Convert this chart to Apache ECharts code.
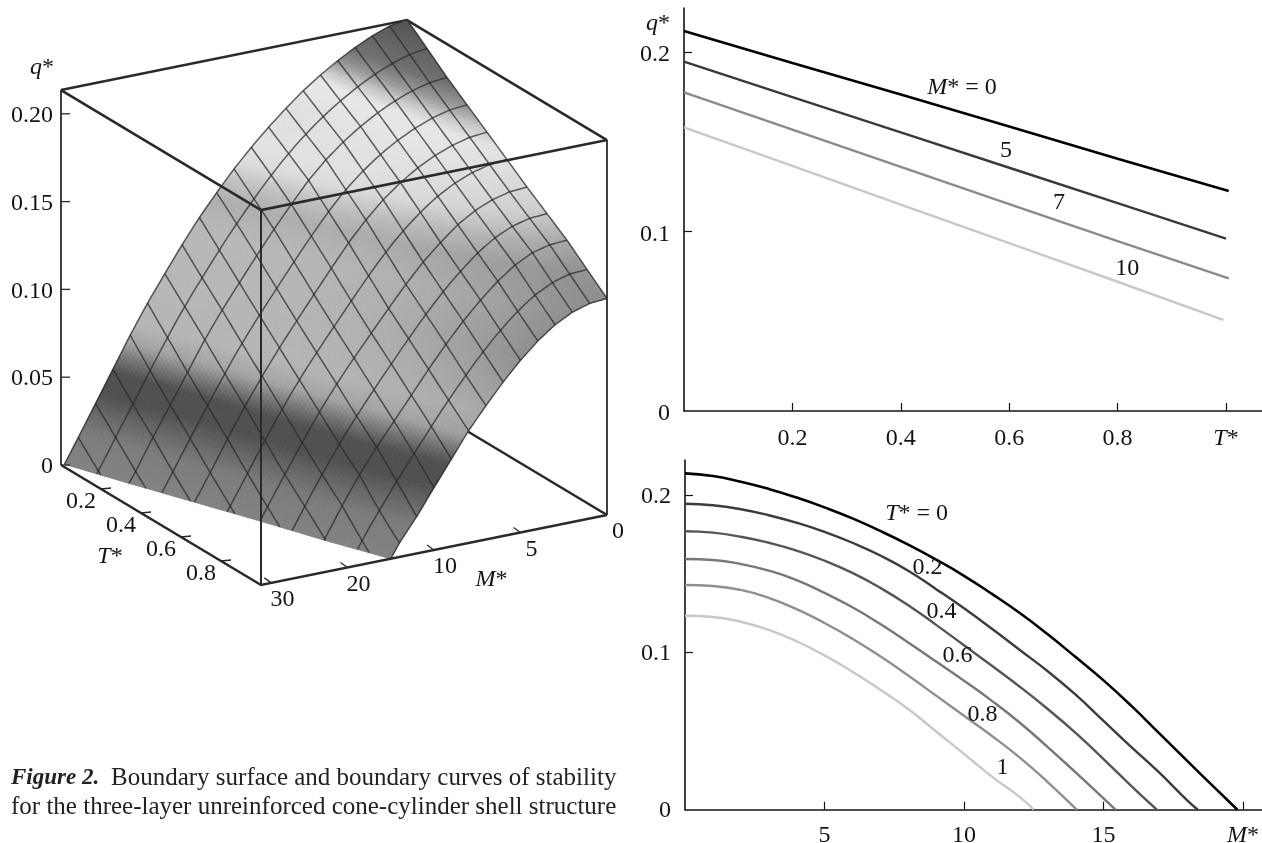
<!DOCTYPE html>
<html><head><meta charset="utf-8">
<style>html,body{margin:0;padding:0;background:#fff}#c{width:1262px;height:843px}</style>
<script src="https://cdn.jsdelivr.net/npm/echarts@6/dist/echarts.min.js"></script>
</head><body><div id="c"></div>
<script>
// ---------- data ----------
const tStations = [0, 0.2, 0.4, 0.6, 0.8];
const tEndM0 = 1.005, tEndM5 = 1.0, tEndM7 = 1.005, tEndM10 = 0.995;
const qM0  = [0.2117, 0.1938, 0.1763, 0.1585, 0.1405, 0.1226];
const qM5  = [0.1946, 0.1749, 0.1552, 0.1355, 0.1158, 0.0960];
const qM7  = [0.1775, 0.1568, 0.1360, 0.1153, 0.0946, 0.0739];
const qM10 = [0.1580, 0.1365, 0.1150, 0.0935, 0.0720, 0.0507];

// q* at M* = 0, 1, 2, ... for each T*; the curve then reaches q* = 0 at mZero
const qT00 = [0.2138,0.2121,0.2085,0.2039,0.1984,0.1922,0.1852,0.1772,0.1685,0.1590,0.1487,0.1372,0.1250,0.1115,0.0970,0.0822,0.0660,0.0485,0.0310,0.0137];
const qT02 = [0.1945,0.1935,0.1910,0.1872,0.1824,0.1766,0.1697,0.1616,0.1519,0.1402,0.1280,0.1150,0.1015,0.0880,0.0731,0.0565,0.0398,0.0235,0.0060];
const qT04 = [0.1770,0.1761,0.1735,0.1697,0.1647,0.1583,0.1505,0.1410,0.1300,0.1175,0.1045,0.0915,0.0782,0.0640,0.0488,0.0322,0.0150];
const qT06 = [0.1594,0.1587,0.1562,0.1520,0.1460,0.1378,0.1287,0.1180,0.1063,0.0942,0.0820,0.0692,0.0553,0.0398,0.0237,0.0072];
const qT08 = [0.1428,0.1422,0.1397,0.1347,0.1275,0.1187,0.1087,0.0975,0.0853,0.0725,0.0597,0.0469,0.0331,0.0176];
const qT10 = [0.1233,0.1225,0.1195,0.1143,0.1071,0.0981,0.0877,0.0762,0.0640,0.0497,0.0355,0.0210,0.0080];
const mZero = [19.8, 18.38, 16.91, 15.43, 14.04, 12.5];
const curveT = [0, 0.2, 0.4, 0.6, 0.8, 1];

const qTicks3d = [0, 0.05, 0.10, 0.15, 0.20];
const qTickLabels3d = ['0', '0.05', '0.10', '0.15', '0.20'];
const tTicks3d = [0.2, 0.4, 0.6, 0.8];
const tTickLabels3d = ['0.2', '0.4', '0.6', '0.8'];
const mTicks3d = [0, 5, 10, 15, 19.4];
const mTickLabels3d = ['0', '5', '10', '20', '30'];

// ---------- styling and projection ----------
const FONT = '"Liberation Serif","Times New Roman",serif';
const FS = 24;
const INK = '#141414';
const tColors = ['#000000', '#3c3c3c', '#555555', '#777777', '#8f8f8f', '#c8c8c8'];
const mColors = ['#000000', '#3a3a3a', '#8a8a8a', '#c8c8c8'];
const rich = { i: { fontStyle: 'italic', fontFamily: FONT, fontSize: FS, color: INK } };

// parallel projection of the box: pixel run of the T*, M* and q* axes inside the hidden grid
const MAX_M = 20, Q_SCALE = 1756;
const ORIGIN = [0, 443], T_VEC = [200, 120], M_VEC = [346, -70];
function project(t, m, q) {
  const u = 1 - m / MAX_M;
  return [ORIGIN[0] + T_VEC[0] * t + M_VEC[0] * u,
          ORIGIN[1] + T_VEC[1] * t + M_VEC[1] * u - Q_SCALE * q];
}
const BOX_Q = 0.2135;

// gray level by height
const grayStops = [[0,0x82],[0.016,0x7c],[0.026,0x68],[0.036,0x50],[0.047,0x50],[0.054,0x74],[0.062,0xa4],[0.072,0xb6],[0.12,0xb8],[0.134,0xae],
  [0.143,0xc0],[0.152,0xdc],[0.165,0xe6],[0.172,0xe8],[0.178,0xc8],[0.184,0x98],[0.192,0x70],[0.215,0x50]];
function grayAt(q, t, m) {
  const ramp = Math.max(0, Math.min(1, (q - 0.16) / 0.02));
  const qq = q - 0.0034 * m * ramp;
  let g = grayStops[grayStops.length - 1][1];
  for (let i = 1; i < grayStops.length; i++) {
    if (qq <= grayStops[i][0]) {
      const a = grayStops[i - 1], b = grayStops[i];
      g = a[1] + (b[1] - a[1]) * (qq - a[0]) / (b[0] - a[0]);
      break;
    }
  }
  const high = Math.max(0, Math.min(1, (q - 0.06) / 0.04));
  g *= 1 - 0.22 * t * t * t * high;
  g = Math.round(g);
  return 'rgb(' + g + ',' + g + ',' + g + ')';
}

// surface built from the six curves of the lower right panel
const rows = [qT00, qT02, qT04, qT06, qT08, qT10].map((a, i) => a.map((v, k) => [k, v]).concat([[mZero[i], 0]]));
function rowAt(i, m) {
  const r = rows[i];
  for (let k = 1; k < r.length; k++) {
    if (m <= r[k][0]) {
      const a = r[k - 1], b = r[k];
      return a[1] + (b[1] - a[1]) * (m - a[0]) / (b[0] - a[0]);
    }
  }
  return 0;
}
function cellOf(t) { const i = Math.min(4, Math.floor(t / 0.2 + 1e-9)); return [i, t / 0.2 - i]; }
function endAt(t) { const c = cellOf(t); return mZero[c[0]] + (mZero[c[0] + 1] - mZero[c[0]]) * c[1]; }
function qAt(t, m) {
  const c = cellOf(t), s = m / endAt(t);
  const a = rowAt(c[0], s * mZero[c[0]]), b = rowAt(c[0] + 1, s * mZero[c[0] + 1]);
  return Math.max(0, a + (b - a) * c[1]);
}
function clipQuad(poly) {
  const out = [];
  for (let i = 0; i < poly.length; i++) {
    const p = poly[i], n = poly[(i + 1) % poly.length];
    const fp = endAt(p[0]) - p[1], fn = endAt(n[0]) - n[1];
    if (fp >= 0) out.push(p);
    if ((fp >= 0) !== (fn >= 0)) {
      const k = fp / (fp - fn);
      out.push([p[0] + (n[0] - p[0]) * k, p[1] + (n[1] - p[1]) * k]);
    }
  }
  return out;
}

const T_CELLS = 10, M_CELLS = 20, SUB = 8;
const cells = [];
for (let i = 0; i < T_CELLS; i++) for (let j = 0; j < M_CELLS; j++) cells.push([i, j]);
const meshT = [];
for (let i = 0; i <= T_CELLS; i++) meshT.push(i / T_CELLS);
const meshM = [];
for (let j = 0; j <= M_CELLS; j++) meshM.push(j);

function poly(api, pts, stroke, w) {
  return { type: 'polyline', shape: { points: pts.map(p => api.coord(p)) }, style: { fill: null, stroke: stroke, lineWidth: w } };
}
function txt(api, p, dx, dy, text, align) {
  const c = api.coord(p);
  return { type: 'text', x: c[0] + dx, y: c[1] + dy,
    style: { text: text, fontFamily: FONT, fontSize: FS, fill: INK, align: align || 'center', verticalAlign: 'middle', rich: rich } };
}
const A = project(0, MAX_M, 0), B = project(1, MAX_M, 0), C = project(1, 0, 0), D = project(0, 0, 0);
const A2 = project(0, MAX_M, BOX_Q), B2 = project(1, MAX_M, BOX_Q), C2 = project(1, 0, BOX_Q), D2 = project(0, 0, BOX_Q);
const EDGE = '#2a2a2a';

const grid3 = { left: 61, top: 22, width: 546, height: 563, outerBoundsMode: 'none' };
const commonHidden = { show: false };

const series = [];
const on3d = { coordinateSystem: 'cartesian2d', xAxisIndex: 2, yAxisIndex: 2, silent: true, animation: false, clip: false };

// hidden edges of the box
series.push(Object.assign({}, on3d, { type: 'custom', z: 1, data: [[0, 0]], renderItem: (p, api) => ({
  type: 'group', children: [poly(api, [D, C], EDGE, 2.6), poly(api, [A2, D2, C2], EDGE, 2.6)] }) }));

// surface
series.push(Object.assign({}, on3d, { type: 'custom', z: 2, data: cells, renderItem: (p, api) => {
  const ci = api.value(0), cj = api.value(1), ch = [];
  const dt = 1 / T_CELLS / SUB, dm = 1 / SUB * (MAX_M / M_CELLS);
  for (let a = 0; a < SUB; a++) for (let b = 0; b < SUB; b++) {
    const t0 = ci / T_CELLS + a * dt, m0 = cj * MAX_M / M_CELLS + b * dm;
    const pl = clipQuad([[t0, m0], [t0 + dt, m0], [t0 + dt, m0 + dm], [t0, m0 + dm]]);
    if (pl.length < 3) continue;
    const vs = pl.map(v => [v[0], v[1], qAt(v[0], v[1])]);
    const qm = vs.reduce((s, v) => s + v[2], 0) / vs.length;
    const tm = vs.reduce((s, v) => s + v[0], 0) / vs.length;
    const mm = vs.reduce((s, v) => s + v[1], 0) / vs.length;
    const col = grayAt(qm, tm, mm);
    ch.push({ type: 'polygon', shape: { points: vs.map(v => api.coord(project(v[0], v[1], v[2]))) },
      style: { fill: col, stroke: col, lineWidth: 0.9 } });
  }
  return { type: 'group', children: ch };
} }));

// mesh
series.push(Object.assign({}, on3d, { type: 'custom', z: 3, data: [[0, 0]], renderItem: (p, api) => {
  const ch = [], MESH = 'rgba(40,40,40,0.72)';
  meshT.forEach(t => {
    const e = endAt(t), pts = [];
    for (let k = 0; k <= 60; k++) { const m = e * k / 60; pts.push(project(t, m, qAt(t, m))); }
    ch.push(poly(api, pts, MESH, 1.5));
  });
  meshM.forEach(m => {
    const pts = [];
    for (let k = 0; k <= 40; k++) {
      const t = k / 40;
      if (endAt(t) < m) {
        const tp = (k - 1) / 40;
        if (k > 0) {
          const f = (endAt(tp) - m) / (endAt(tp) - endAt(t)), te = tp + (t - tp) * f;
          pts.push(project(te, m, 0));
        }
        break;
      }
      pts.push(project(t, m, qAt(t, m)));
    }
    if (pts.length > 1) ch.push(poly(api, pts, MESH, 1.5));
  });
  return { type: 'group', children: ch };
} }));

// front edges, ticks and labels of the box
series.push(Object.assign({}, on3d, { type: 'custom', z: 4, data: [[0, 0]], renderItem: (p, api) => {
  const ch = [poly(api, [A2, B2, C2], EDGE, 2.6), poly(api, [A, B, C], EDGE, 2.6),
    poly(api, [A, A2], EDGE, 1.8), poly(api, [B, B2], EDGE, 2), poly(api, [C, C2], EDGE, 1.8)];
  qTicks3d.forEach((q, i) => {
    const a = project(0, MAX_M, q);
    ch.push(poly(api, [a, [a[0] + 9, a[1]]], EDGE, 1.3));
    ch.push(txt(api, a, -8, 2, qTickLabels3d[i], 'right'));
  });
  tTicks3d.forEach((t, i) => {
    const a = project(t, MAX_M, 0);
    ch.push(poly(api, [a, [a[0] + 10, a[1] - 1]], EDGE, 1.3));
    ch.push(txt(api, a, -20, 13, tTickLabels3d[i]));
  });
  mTicks3d.forEach((m, i) => {
    const a = project(1, m, 0);
    if (i > 0) ch.push(poly(api, [a, [a[0] - 7, a[1] - 5]], EDGE, 1.3));
    ch.push(txt(api, a, 11, 17, mTickLabels3d[i]));
  });
  ch.push(txt(api, project(0, MAX_M, BOX_Q), -19, -22, '{i|q}*'));
  ch.push(txt(api, project(0.6, MAX_M, 0), -71, 20, '{i|T}*'));
  ch.push(txt(api, project(1, 5, 0), -29, 47, '{i|M}*'));
  return { type: 'group', children: ch };
} }));

// right hand panels
function lineSeries(x, y, name, data, color, width, smooth) {
  return { type: 'line', name, xAxisIndex: x, yAxisIndex: y, data, showSymbol: false, symbol: 'none', smooth: smooth,
    silent: true, animation: false, clip: false, lineStyle: { color, width, cap: 'butt' }, z: 2 };
}
function pairs(xs, ys, xEnd) { return ys.map((v, i) => [i < xs.length ? xs[i] : xEnd, v]); }
series.push(lineSeries(0, 0, 'M*=0', pairs(tStations, qM0, tEndM0), mColors[0], 2.6, false));
series.push(lineSeries(0, 0, 'M*=5', pairs(tStations, qM5, tEndM5), mColors[1], 2.4, false));
series.push(lineSeries(0, 0, 'M*=7', pairs(tStations, qM7, tEndM7), mColors[2], 2.4, false));
series.push(lineSeries(0, 0, 'M*=10', pairs(tStations, qM10, tEndM10), mColors[3], 2.4, false));
rows.forEach((r, i) => series.push(lineSeries(1, 1, 'T*=' + curveT[i], r, tColors[i], i === 0 ? 2.6 : 2.4, 0.5)));

function noteSeries(x, y, notes) {
  return { type: 'scatter', xAxisIndex: x, yAxisIndex: y, symbolSize: 0, silent: true, animation: false, z: 5,
    itemStyle: { opacity: 1 },
    data: notes.map(n => ({ value: [n[0], n[1]], label: { formatter: n[2] } })),
    label: { show: true, position: 'inside', fontFamily: FONT, fontSize: FS, color: INK, rich: rich } };
}
const notesTop = [[0.513, 0.18, '{i|M}* = 0'], [0.594, 0.145, '5'], [0.692, 0.116, '7'], [0.818, 0.079, '10']];
const notesBottom = [[8.3, 0.188, '{i|T}* = 0'], [8.69, 0.1537, '0.2'], [9.19, 0.1257, '0.4'], [9.77, 0.0977, '0.6'], [10.66, 0.0602, '0.8'], [11.38, 0.0265, '1']];
series.push(noteSeries(0, 0, notesTop));
series.push(noteSeries(1, 1, notesBottom));

const axisBase = {
  axisLine: { show: true, onZero: false, lineStyle: { color: INK, width: 1.6 } },
  axisTick: { show: true, inside: true, length: 8, lineStyle: { color: INK, width: 1.2 } },
  splitLine: { show: false },
  axisLabel: { fontFamily: FONT, fontSize: FS, color: INK, rich: rich, hideOverlap: false, showMinLabel: true, showMaxLabel: true }
};
function valAxis(extra, ticks, labels, margin, pad) {
  return Object.assign({ type: 'value' }, axisBase, extra, {
    axisTick: Object.assign({}, axisBase.axisTick, { customValues: ticks }),
    axisLabel: Object.assign({}, axisBase.axisLabel, { margin, padding: pad,
      customValues: labels.map(l => l[0]), formatter: v => { const f = labels.find(l => Math.abs(l[0] - v) < 1e-6); return f ? f[1] : ''; } })
  });
}

const option = {
  backgroundColor: '#ffffff',
  animation: false,
  grid: [
    { left: 684, top: 8, width: 578, height: 403, outerBoundsMode: 'none' },
    { left: 685, top: 460, width: 577, height: 349.7, outerBoundsMode: 'none' },
    grid3
  ],
  xAxis: [
    valAxis({ gridIndex: 0, min: 0, max: 1.0664 }, [0.2, 0.4, 0.6, 0.8, 1], [[0.2, '0.2'], [0.4, '0.4'], [0.6, '0.6'], [0.8, '0.8'], [1, '{i|T}*']], 16),
    valAxis({ gridIndex: 1, min: 0, max: 20.68 }, [5, 10, 15, 20], [[5, '5'], [10, '10'], [15, '15'], [20, '{i|M}*']], 14),
    Object.assign({ type: 'value', gridIndex: 2, min: 0, max: grid3.width }, commonHidden)
  ],
  yAxis: [
    valAxis({ gridIndex: 0, min: 0, max: 0.2245, name: '{i|q}*', nameLocation: 'end', nameGap: 0,
      nameTextStyle: { fontFamily: FONT, fontSize: FS, color: INK, rich: rich, align: 'right', verticalAlign: 'top', padding: [4, 14, 0, 0] } },
      [0.1, 0.2], [[0, '0'], [0.1, '0.1'], [0.2, '0.2']], 14, [6, 0, 0, 0]),
    valAxis({ gridIndex: 1, min: 0, max: 0.2223 }, [0.1, 0.2], [[0, '0'], [0.1, '0.1'], [0.2, '0.2']], 14, [3, 0, 0, 0]),
    Object.assign({ type: 'value', gridIndex: 2, min: 0, max: grid3.height, inverse: true }, commonHidden)
  ],
  graphic: [
    { type: 'text', left: 11, top: 767, style: { text: 'Figure 2.', font: 'italic bold 23px ' + FONT, fill: '#222' } },
    { type: 'text', left: 111, top: 766, style: { text: 'Boundary surface and boundary curves of stability', font: '25px ' + FONT, fill: '#222' } },
    { type: 'text', left: 11, top: 795, style: { text: 'for the three-layer unreinforced cone-cylinder shell structure', font: '25px ' + FONT, fill: '#222' } }
  ],
  series
};
const chart = echarts.init(document.getElementById('c'), null, { renderer: 'canvas', width: 1262, height: 843 });
chart.setOption(option);
</script></body></html>
